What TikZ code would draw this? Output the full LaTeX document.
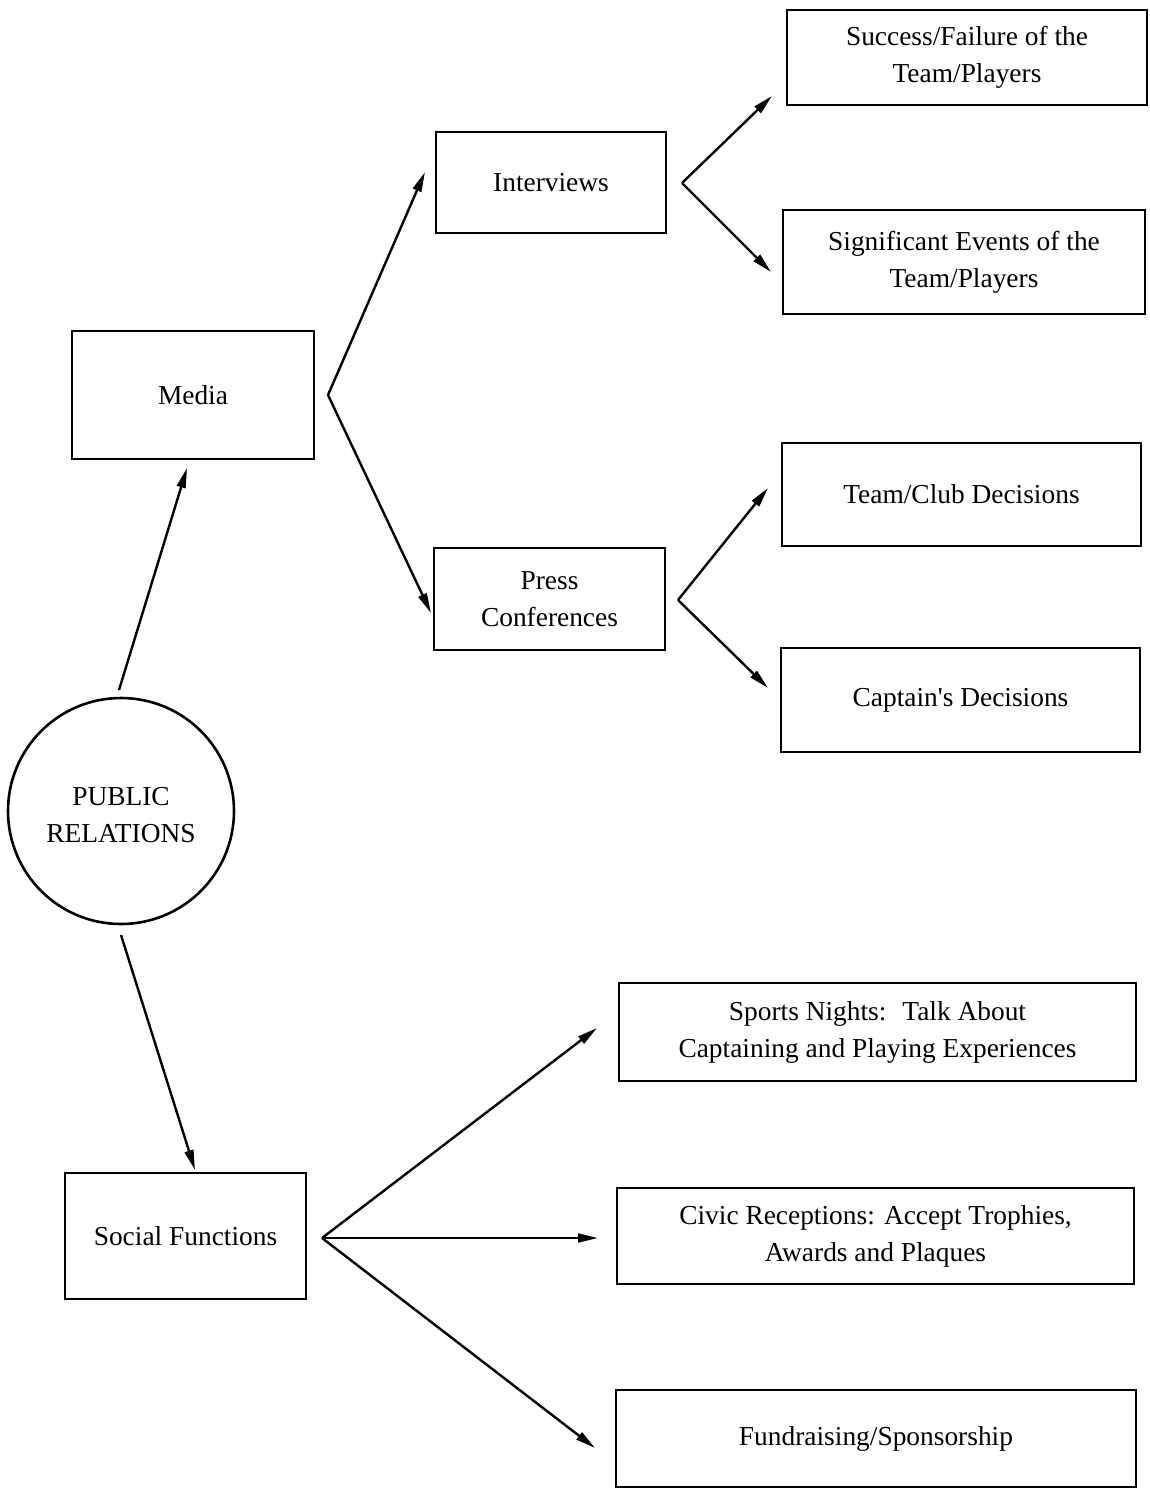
\documentclass[tikz,border=0pt]{standalone}
\usepackage{fontspec}
\setmainfont{Liberation Serif}
\usetikzlibrary{arrows.meta}
\begin{document}
\begin{tikzpicture}[x=0.5pt,y=-0.5pt,
  every node/.style={font=\fontsize{13.7}{18.5}\selectfont, align=center, inner sep=0pt},
  box/.style={draw, line width=1.3pt, rectangle},
  conn/.style={line width=1.2pt, -{Triangle[length=10pt,width=4.4pt]}}]
\useasboundingbox (0,0) rectangle (1150,1489);
% boxes
\node[box, minimum width=180pt, minimum height=47.5pt] (succ) at (967,57.5) {Success/Failure of the\\Team/Players};
\node[box, minimum width=181pt, minimum height=52pt] (sig) at (964,262) {Significant Events of the\\Team/Players};
\node[box, minimum width=115pt, minimum height=50.5pt] (int) at (551,182.5) {Interviews};
\node[box, minimum width=121pt, minimum height=64pt] (media) at (193,395) {Media};
\node[box, minimum width=179.5pt, minimum height=51.5pt] (club) at (961.5,494.5) {Team/Club Decisions};
\node[box, minimum width=115.5pt, minimum height=51pt] (press) at (549.5,599) {Press\\Conferences};
\node[box, minimum width=179.5pt, minimum height=52pt] (capt) at (960.5,700) {Captain\textquotesingle s Decisions};
\node[draw, circle, line width=1.3pt, minimum size=113pt] (pr) at (121,811) {};
\node (prtext) at (121,815) {PUBLIC\\RELATIONS};
\node[box, minimum width=120.5pt, minimum height=63pt] (social) at (185.5,1236) {Social Functions};
\node[box, minimum width=258.5pt, minimum height=49pt] (sports) at (877.5,1032) {Sports Nights: \ Talk About\\Captaining and Playing Experiences};
\node[box, minimum width=258.5pt, minimum height=48pt] (civic) at (875.5,1236) {Civic Receptions: Accept Trophies,\\Awards and Plaques};
\node[box, minimum width=260pt, minimum height=48.5pt] (fund) at (876,1438.5) {Fundraising/Sponsorship};
% connector points
\coordinate (prT) at (119,690);
\coordinate (mediaIn) at (187,468);
\coordinate (prB) at (121,935);
\coordinate (socialIn) at (195,1170);
\coordinate (mediaV) at (328,395);
\coordinate (intIn) at (425,172);
\coordinate (pressIn) at (431,613);
\coordinate (intV) at (682,183);
\coordinate (succIn) at (772,96);
\coordinate (sigIn) at (771,272);
\coordinate (pressV) at (678,600);
\coordinate (clubIn) at (768,488);
\coordinate (captIn) at (768,688);
\coordinate (socialV) at (322,1238);
\coordinate (sportsIn) at (597,1028);
\coordinate (civicIn) at (598,1238);
\coordinate (fundIn) at (595,1448);
% connectors
\draw[conn] (prT) -- (mediaIn);
\draw[conn] (prB) -- (socialIn);
\draw[conn] (mediaV) -- (intIn);
\draw[conn] (mediaV) -- (pressIn);
\draw[conn] (intV) -- (succIn);
\draw[conn] (intV) -- (sigIn);
\draw[conn] (pressV) -- (clubIn);
\draw[conn] (pressV) -- (captIn);
\draw[conn] (socialV) -- (sportsIn);
\draw[conn] (socialV) -- (civicIn);
\draw[conn] (socialV) -- (fundIn);
\end{tikzpicture}
\end{document}
